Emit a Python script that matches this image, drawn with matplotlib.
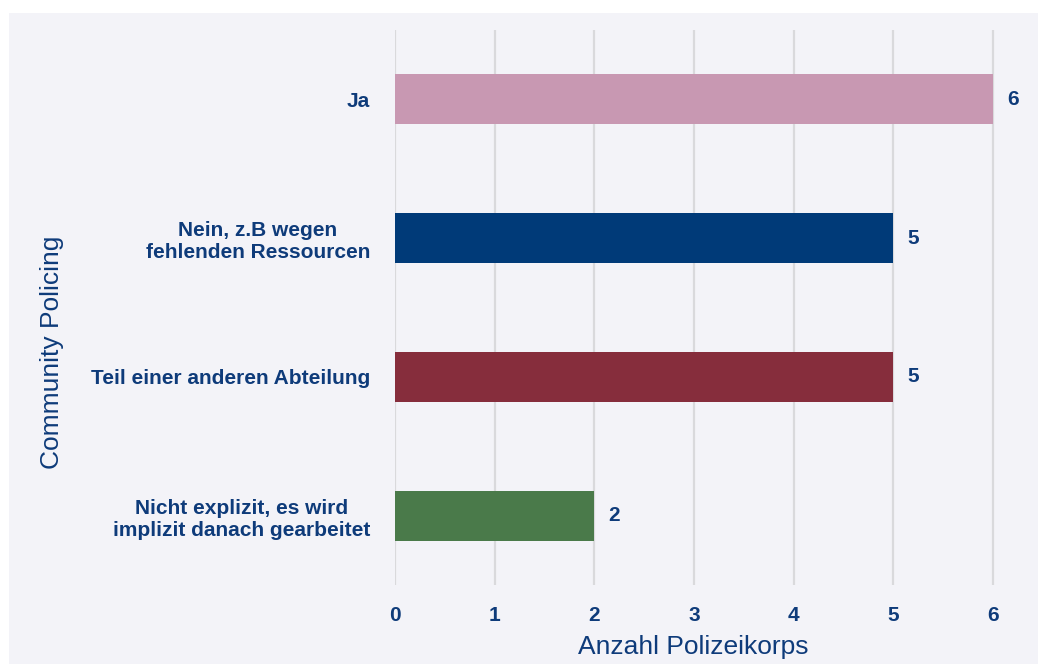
import matplotlib
matplotlib.use("Agg")
import matplotlib.pyplot as plt
from matplotlib.patches import Rectangle

# chart data
categories = ["Ja", "Nein, z.B wegen\nfehlenden Ressourcen", "Teil einer anderen Abteilung",
              "Nicht explizit, es wird\nimplizit danach gearbeitet"]
counts = [6, 5, 5, 2]
bar_colors = ["#C898B2", "#003A78", "#862D3C", "#4A7A4A"]
xticks = [0, 1, 2, 3, 4, 5, 6]

text_col = "#0E3B7A"
bg = "#F3F3F8"

plt.rcParams["font.family"] = ["Liberation Sans", "DejaVu Sans"]

fig = plt.figure(figsize=(10.38, 6.64), dpi=100)
fig.patch.set_facecolor("white")
# grey panel with white margin top/left
fig.patches.append(Rectangle((9 / 1038, 0), 1, 1 - 13 / 664, transform=fig.transFigure,
                             facecolor=bg, edgecolor="none", zorder=-10))

ax = fig.add_axes([395 / 1038, 1 - 585 / 664, 633 / 1038, 555 / 664])
ax.set_facecolor("none")

pos = list(range(len(categories)))
ax.barh(pos, counts, height=0.36, color=bar_colors, zorder=3)
for p, v in zip(pos, counts):
    ax.text(v + 0.14, p, str(v), va="center", ha="left", fontsize=15,
            fontweight="bold", color=text_col)

ax.set_ylim(3.5, -0.5)
ax.set_xlim(0, 6.35)
ax.set_xticks(xticks)
ax.set_xticklabels([str(t) for t in xticks], fontsize=15, fontweight="bold", color=text_col)
ax.set_yticks(pos)
ax.set_yticklabels(categories, fontsize=15, fontweight="bold", color=text_col,
                   multialignment="center", linespacing=1.2)
ax.tick_params(axis="both", length=0)
ax.tick_params(axis="x", pad=15)
ax.tick_params(axis="y", pad=18)
ax.grid(axis="x", color="#D9D9DC", linewidth=1.6, zorder=0)
for s in ax.spines.values():
    s.set_visible(False)

ax.set_xlabel("Anzahl Polizeikorps", fontsize=19, color=text_col)
ax.xaxis.set_label_coords((693 - 395) / 633, -(647 - 585) / 555)
ax.xaxis.label.set_va("center")
fig.text(52 / 1038, 1 - 352 / 664, "Community Policing", rotation=90, fontsize=19,
         color=text_col, ha="center", va="center")

plt.savefig("out.png", dpi=100)
